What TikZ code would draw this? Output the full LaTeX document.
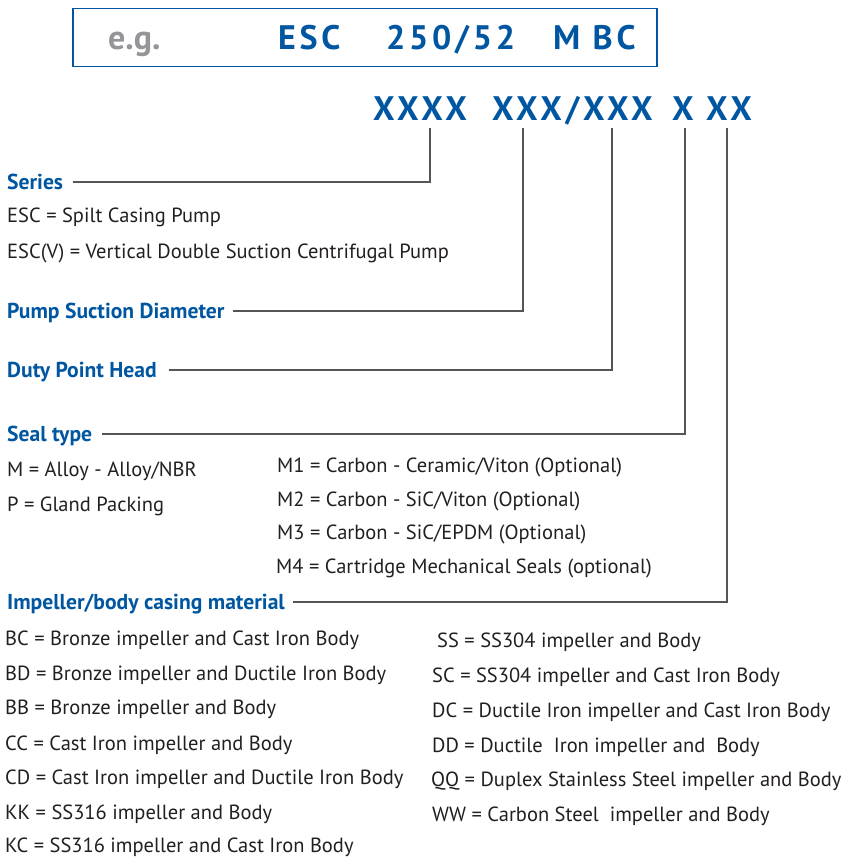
\documentclass[tikz,border=0pt]{standalone}
\usepackage{fontspec}
\setmainfont{PT Sans}
\newfontfamily\hdfont[LetterSpace=11]{PT Sans Bold}
\definecolor{cblue}{HTML}{0056A0}
\definecolor{cgray}{HTML}{939598}
\definecolor{ctext}{HTML}{231F20}
\definecolor{cline}{HTML}{555555}
\begin{document}
\begin{tikzpicture}[x=1pt,y=-1pt,
  body/.style={anchor=west,inner sep=0pt,text=ctext,font=\fontsize{20.5}{22}\selectfont,text height=14.4pt,text depth=0pt},
  head/.style={anchor=west,inner sep=0pt,text=cblue,font=\fontsize{21.6}{23}\selectfont\bfseries,text height=15pt,text depth=0pt},
  code/.style={anchor=west,inner sep=0pt,text=cblue,font=\fontsize{34}{36}\hdfont,text height=24pt,text depth=0pt},
  conn/.style={draw=cline,line width=1.1pt}]
\useasboundingbox (0,0) rectangle (843,858);
% example box
\node[draw=cblue,line width=1.5pt,minimum width=584pt,minimum height=58pt,anchor=north west,inner sep=0pt] (box) at (72,8) {};
\node[code,text=cgray,font=\fontsize{34}{36}\bfseries] (eg) at (108,38) {e.g.};
\node[code] (esc) at (278,38) {ESC};
\node[code] (num) at (386,38) {250/52};
\node[code] (mbc) at (553,38) {M BC};
% code row
\node[code] (c1) at (373,109) {XXXX};
\node[code] (c2) at (492,109) {XXX/XXX};
\node[code] (c3) at (672,109) {X};
\node[code] (c4) at (706,109) {XX};
\coordinate (t1) at (430,128);
\coordinate (t2) at (523,128);
\coordinate (t3) at (612,128);
\coordinate (t4) at (685,128);
\coordinate (t5) at (727,128);
% labels
\node[head] (series) at (7,182) {Series};
\node[body] at (7,215) {ESC = Spilt Casing Pump};
\node[body] at (7,251) {ESC(V) = Vertical Double Suction Centrifugal Pump};
\node[head] (psd) at (7,311) {Pump Suction Diameter};
\node[head] (dph) at (7,370) {Duty Point Head};
\node[head] (seal) at (7,434) {Seal type};
\node[body] at (7,469) {M = Alloy - Alloy/NBR};
\node[body] at (7,504) {P = Gland Packing};
\node[body] at (277,465) {M1 = Carbon - Ceramic/Viton (Optional)};
\node[body] at (277,499) {M2 = Carbon - SiC/Viton (Optional)};
\node[body] at (277,532) {M3 = Carbon - SiC/EPDM (Optional)};
\node[body] at (276,566) {M4 = Cartridge Mechanical Seals (optional)};
\node[head] (imp) at (7,602) {Impeller/body casing material};
% materials left
\node[body] at (5,638) {BC = Bronze impeller and Cast Iron Body};
\node[body] at (5,673) {BD = Bronze impeller and Ductile Iron Body};
\node[body] at (5,707) {BB = Bronze impeller and Body};
\node[body] at (5,743) {CC = Cast Iron impeller and Body};
\node[body] at (5,777) {CD = Cast Iron impeller and Ductile Iron Body};
\node[body] at (5,812) {KK = SS316 impeller and Body};
\node[body] at (5,845) {KC = SS316 impeller and Cast Iron Body};
% materials right
\node[body] at (437,640) {SS = SS304 impeller and Body};
\node[body] at (432,675) {SC = SS304 impeller and Cast Iron Body};
\node[body] at (432,710) {DC = Ductile Iron impeller and Cast Iron Body};
\node[body] at (432,745) {DD = Ductile\ \ Iron impeller and\ \ Body};
\node[body] at (431,779) {QQ = Duplex Stainless Steel impeller and Body};
\node[body] at (432,814) {WW = Carbon Steel\ \ impeller and Body};
% connectors
\draw[conn] ([xshift=10pt]series.east) -| (t1);
\draw[conn] ([xshift=8pt]psd.east) -| (t2);
\draw[conn] ([xshift=12pt]dph.east) -| (t3);
\draw[conn] ([xshift=10pt]seal.east) -| (t4);
\draw[conn] ([xshift=8pt]imp.east) -| (t5);
\end{tikzpicture}
\end{document}
